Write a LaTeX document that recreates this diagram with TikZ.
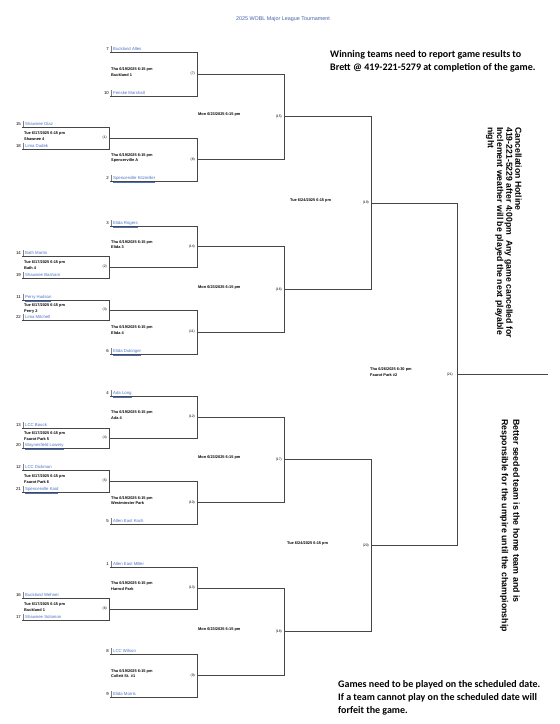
\documentclass[tikz,border=0pt]{standalone}
\usepackage{fontspec}
\setmainfont{Liberation Sans}
\newfontfamily\notefont{Carlito}
\usetikzlibrary{calc}
\definecolor{linegray}{RGB}{70,70,70}
\definecolor{teamblue}{RGB}{75,115,195}
\definecolor{titleblue}{RGB}{70,100,170}
\tikzset{
  br/.style={draw=linegray, line width=0.9pt},
  tickline/.style={draw=linegray!70, line width=0.5pt},
  teamname/.style={anchor=base west, font=\fontsize{4.3}{5}\selectfont, text=teamblue, inner sep=0pt},
  seednum/.style={anchor=base east, font=\fontsize{4.3}{5}\selectfont, inner sep=0pt},
  gameinfo/.style={anchor=north west, align=left, font=\bfseries\fontsize{3.9}{5.8}\selectfont, inner sep=0pt},
  gnum/.style={anchor=east, font=\fontsize{3.4}{4}\selectfont, inner sep=0pt},
  rdate/.style={anchor=west, font=\bfseries\fontsize{3.9}{5}\selectfont, inner sep=0pt},
  notetext/.style={align=left, font=\notefont\bfseries\fontsize{10}{13}\selectfont, inner sep=0pt},
  rotnote/.style={align=left, rotate=-90, anchor=north west, font=\bfseries\fontsize{8.7}{9.2}\selectfont, inner sep=0pt},
}
\newcommand\bteam[5]{%
  \coordinate (#1) at (#2,#3);
  \node[seednum] (#1-s) at (#2-1,#3-1.3) {#4};
  \node[teamname] (#1-n) at (#2+3,#3-1.3) {\underline{#5}};
  \draw[tickline] (#1) ++(1.2,0) -- ++(0,-6);
}
\newcommand\bjoin[4]{%
  \coordinate (#1-t) at (#3 -| #2);
  \coordinate (#1-b) at (#4 -| #2);
  \coordinate (#1) at ($(#1-t)!0.5!(#1-b)$);
  \draw[br] (#3) -- (#1-t) -- (#1-b) -- (#4);
}
\begin{document}
\begin{tikzpicture}[x=1pt,y=-1pt]
\fill[white] (0,0) rectangle (560,724);
\useasboundingbox (0,0) rectangle (560,724);

\node[font=\fontsize{5.4}{6}\selectfont, text=titleblue, inner sep=0pt] (title) at (283,19) {2025 WOBL Major League Tournament};

\coordinate (xP) at (109,0);
\coordinate (xR) at (197,0);
\coordinate (xQ) at (284,0);
\coordinate (xS) at (371,0);
\coordinate (xF) at (457,0);

% teams
\bteam{tA}{110}{52}{7}{Buckland Alles}
\bteam{tB}{110}{96}{10}{Fenske Marshall}
\bteam{tC}{22}{127}{15}{Shawnee Diaz}
\bteam{tD}{22}{149}{18}{Lima Dudek}
\bteam{tE}{110}{181}{2}{Spencerville Kitzmiller}
\bteam{tF}{110}{226}{3}{Elida Rogers}
\bteam{tG}{22}{256}{14}{Bath Martin}
\bteam{tH}{22}{278}{19}{Shawnee Basham}
\bteam{tI}{22}{300}{11}{Perry Hudson}
\bteam{tJ}{22}{320}{22}{Lima Mitchell}
\bteam{tK}{110}{354}{6}{Elida Dukinger}
\bteam{tL}{110}{396}{4}{Ada Long}
\bteam{tM}{22}{428}{13}{LCC Bouck}
\bteam{tN}{22}{448}{20}{Waynesfield Lowery}
\bteam{tO}{22}{470}{12}{LCC Dickman}
\bteam{tP}{22}{492}{21}{Spencerville Kaid}
\bteam{tQ}{110}{524}{5}{Allen East Koch}
\bteam{tR}{110}{567}{1}{Allen East Miller}
\bteam{tS}{22}{598}{16}{Buckland Wehner}
\bteam{tT}{22}{620}{17}{Shawnee Solomon}
\bteam{tU}{110}{654}{8}{LCC Wilson}
\bteam{tV}{110}{697}{9}{Elida Morris}

% play-in games
\bjoin{P1}{xP}{tC}{tD}
\bjoin{P2}{xP}{tG}{tH}
\bjoin{P3}{xP}{tI}{tJ}
\bjoin{P4}{xP}{tM}{tN}
\bjoin{P5}{xP}{tO}{tP}
\bjoin{P6}{xP}{tS}{tT}
% round 1
\bjoin{R1}{xR}{tA}{tB}
\bjoin{R2}{xR}{P1}{tE}
\bjoin{R3}{xR}{tF}{P2}
\bjoin{R4}{xR}{P3}{tK}
\bjoin{R5}{xR}{tL}{P4}
\bjoin{R6}{xR}{P5}{tQ}
\bjoin{R7}{xR}{tR}{P6}
\bjoin{R8}{xR}{tU}{tV}
% round 2
\bjoin{Q1}{xQ}{R1}{R2}
\bjoin{Q2}{xQ}{R3}{R4}
\bjoin{Q3}{xQ}{R5}{R6}
\bjoin{Q4}{xQ}{R7}{R8}
% round 3
\bjoin{S1}{xS}{Q1}{Q2}
\bjoin{S2}{xS}{Q3}{Q4}
% final
\bjoin{F}{xF}{S1}{S2}
\coordinate (champ) at (548,0);
\draw[br] (F) -- (F -| champ);

% game info
\node[gameinfo, xshift=2pt, yshift=6.5pt] (iP1) at (P1 -| tC) {Tue 6/17/2025 6:15 pm\\Shawnee 4};
\node[gameinfo, xshift=2pt, yshift=6.5pt] (iP2) at (P2 -| tG) {Tue 6/17/2025 6:15 pm\\Bath 4};
\node[gameinfo, xshift=2pt, yshift=6.5pt] (iP3) at (P3 -| tI) {Tue 6/17/2025 6:15 pm\\Perry 2};
\node[gameinfo, xshift=2pt, yshift=6.5pt] (iP4) at (P4 -| tM) {Tue 6/17/2025 6:15 pm\\Faurot Park 5};
\node[gameinfo, xshift=2pt, yshift=6.5pt] (iP5) at (P5 -| tO) {Tue 6/17/2025 6:15 pm\\Faurot Park 6};
\node[gameinfo, xshift=2pt, yshift=6.5pt] (iP6) at (P6 -| tS) {Tue 6/17/2025 6:15 pm\\Buckland 1};
\node[gameinfo, xshift=1pt, yshift=6.5pt] (iR1) at (R1 -| tA) {Thu 6/19/2025 6:15 pm\\Buckland 1};
\node[gameinfo, xshift=1pt, yshift=6.5pt] (iR2) at (R2 -| tE) {Thu 6/19/2025 6:15 pm\\Spencerville A};
\node[gameinfo, xshift=1pt, yshift=6.5pt] (iR3) at (R3 -| tF) {Thu 6/19/2025 6:15 pm\\Elida 3};
\node[gameinfo, xshift=1pt, yshift=6.5pt] (iR4) at (R4 -| tK) {Thu 6/19/2025 6:15 pm\\Elida 4};
\node[gameinfo, xshift=1pt, yshift=6.5pt] (iR5) at (R5 -| tL) {Thu 6/19/2025 6:15 pm\\Ada 4};
\node[gameinfo, xshift=1pt, yshift=6.5pt] (iR6) at (R6 -| tQ) {Thu 6/19/2025 6:15 pm\\Westminster Park};
\node[gameinfo, xshift=1pt, yshift=6.5pt] (iR7) at (R7 -| tR) {Thu 6/19/2025 6:15 pm\\Harrod Park};
\node[gameinfo, xshift=1pt, yshift=6.5pt] (iR8) at (R8 -| tU) {Thu 6/19/2025 6:15 pm\\Collett St. \#1};
\node[rdate, xshift=1pt, yshift=2pt] (iQ1) at (Q1 -| xR) {Mon 6/23/2025 6:15 pm};
\node[rdate, xshift=1pt, yshift=2pt] (iQ2) at (Q2 -| xR) {Mon 6/23/2025 6:15 pm};
\node[rdate, xshift=1pt, yshift=2pt] (iQ3) at (Q3 -| xR) {Mon 6/23/2025 6:15 pm};
\node[rdate, xshift=1pt, yshift=2pt] (iQ4) at (Q4 -| xR) {Mon 6/23/2025 6:15 pm};
\node[rdate, xshift=6pt, yshift=2.5pt] (iS1) at (S1 -| xQ) {Tue 6/24/2025 6:15 pm};
\node[rdate, xshift=3pt, yshift=2.5pt] (iS2) at (S2 -| xQ) {Tue 6/24/2025 6:15 pm};
\node[gameinfo, xshift=-1pt, yshift=6.5pt] (iF) at (F -| xS) {Thu 6/26/2025 6:30 pm\\Faurot Park \#2};

% game numbers
\node[gnum, xshift=-2pt] (nP1) at (P1) {(1)};
\node[gnum, xshift=-2pt] (nP2) at (P2) {(2)};
\node[gnum, xshift=-2pt] (nP3) at (P3) {(3)};
\node[gnum, xshift=-2pt] (nP4) at (P4) {(4)};
\node[gnum, xshift=-2pt] (nP5) at (P5) {(5)};
\node[gnum, xshift=-2pt] (nP6) at (P6) {(6)};
\node[gnum, xshift=-2pt] (nR1) at (R1) {(7)};
\node[gnum, xshift=-2pt] (nR2) at (R2) {(8)};
\node[gnum, xshift=-2pt] (nR3) at (R3) {(14)};
\node[gnum, xshift=-2pt] (nR4) at (R4) {(11)};
\node[gnum, xshift=-2pt] (nR5) at (R5) {(12)};
\node[gnum, xshift=-2pt] (nR6) at (R6) {(10)};
\node[gnum, xshift=-2pt] (nR7) at (R7) {(13)};
\node[gnum, xshift=-2pt] (nR8) at (R8) {(9)};
\node[gnum, xshift=-2pt] (nQ1) at (Q1) {(15)};
\node[gnum, xshift=-2pt] (nQ2) at (Q2) {(16)};
\node[gnum, xshift=-2pt] (nQ3) at (Q3) {(17)};
\node[gnum, xshift=-2pt] (nQ4) at (Q4) {(18)};
\node[gnum, xshift=-2pt] (nS1) at (S1) {(19)};
\node[gnum, xshift=-2pt] (nS2) at (S2) {(20)};
\node[gnum, xshift=-4pt] (nF) at (F) {(21)};

% notes
\node[notetext, anchor=north west] (note1) at (330,50) {Winning teams need to report game results to\\Brett @ 419-221-5279 at completion of the game.};
\node[rotnote] (note2) at (522,127) {Cancellation Hotline\\419-221-5229 after 4:00pm\ \ Any game cancelled for\\Inclement weather will be played the next playable\\night};
\node[rotnote, font=\bfseries\fontsize{8.8}{11.5}\selectfont] (note3) at (520,419) {Better seeded team is the home team and is\\Responsible for the umpire until the championship};
\node[notetext, anchor=north west] (note4) at (338,680) {Games need to be played on the scheduled date.\\If a team cannot play on the scheduled date will\\forfeit the game.};
\end{tikzpicture}
\end{document}
